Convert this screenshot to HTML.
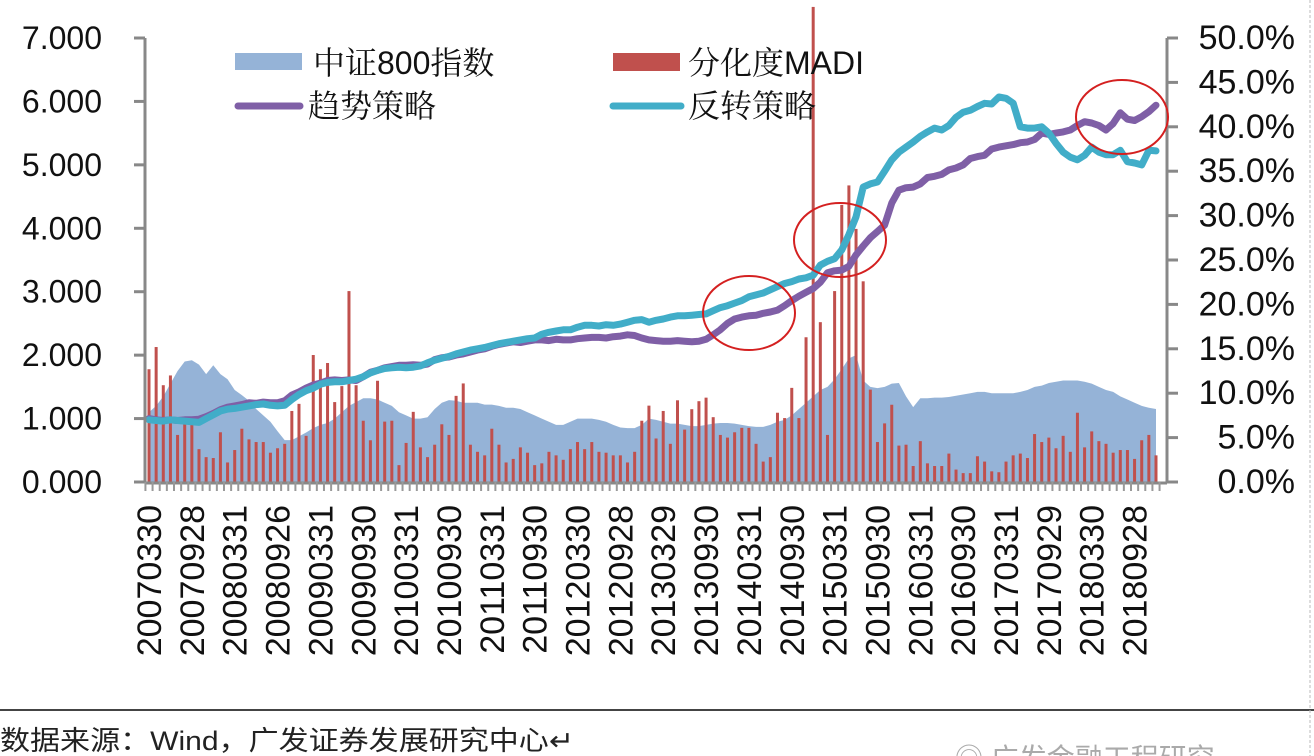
<!DOCTYPE html>
<html><head><meta charset="utf-8"><style>
html,body{margin:0;padding:0;background:#fff;width:1314px;height:756px;overflow:hidden}
svg{display:block}
</style></head><body>
<svg id="chart" width="1314" height="756" xmlns="http://www.w3.org/2000/svg" font-family="Liberation Sans, sans-serif">
<g id="area-layer"></g>
<g id="bar-layer"></g>
<g id="line-layer"></g>
<g id="axis-layer"></g>
<g fill="none" stroke="#d42020" stroke-width="2">
<ellipse cx="749" cy="313" rx="46" ry="37"/>
<ellipse cx="840" cy="240" rx="46" ry="37"/>
<ellipse cx="1122" cy="117" rx="46" ry="37"/>
</g>
<g font-family="Liberation Sans, Noto Serif CJK SC, serif" font-size="32" fill="#111">
<g><rect x="235" y="53" width="67" height="17" fill="#95b3d7"/><text x="313" y="74">中证800指数</text></g>
<g><rect x="613" y="53" width="67" height="18" fill="#c0504d"/><text x="688" y="74">分化度MADI</text></g>
<g><line x1="238" y1="106" x2="300" y2="106" stroke="#7f5fa6" stroke-width="7" stroke-linecap="round"/><text x="308" y="117">趋势策略</text></g>
<g><line x1="613" y1="106" x2="681" y2="106" stroke="#41adc8" stroke-width="7" stroke-linecap="round"/><text x="688" y="117">反转策略</text></g>
</g>
<line x1="0" y1="710" x2="1314" y2="710" stroke="#444" stroke-width="2"/>
<line x1="1310" y1="0" x2="1310" y2="756" stroke="#bbb" stroke-width="1" stroke-dasharray="3,2"/>
<text x="0" y="750" font-size="27" fill="#222" textLength="574" lengthAdjust="spacingAndGlyphs" font-family="Liberation Sans, Noto Sans CJK SC, sans-serif">数据来源：Wind，广发证券发展研究中心↵</text>
<text x="955" y="768" font-size="28" fill="#aaa" font-family="Liberation Sans, Noto Sans CJK SC, sans-serif">◎ 广发金融工程研究</text>
</svg>
<script>
const xLabels=["20070330","20070928","20080331","20080926","20090331","20090930","20100331","20100930","20110331","20110930","20120330","20120928","20130329","20130930","20140331","20140930","20150331","20150930","20160331","20160930","20170331","20170929","20180330","20180928"];
const leftTicks=["0.000","1.000","2.000","3.000","4.000","5.000","6.000","7.000"];
const rightTicks=["0.0%","5.0%","10.0%","15.0%","20.0%","25.0%","30.0%","35.0%","40.0%","45.0%","50.0%"];
const csi800=[1.1,1.2,1.35,1.55,1.75,1.9,1.92,1.85,1.7,1.84,1.7,1.62,1.45,1.37,1.28,1.15,1.05,0.95,0.8,0.66,0.66,0.72,0.78,0.85,0.9,0.93,1.0,1.1,1.2,1.26,1.32,1.32,1.3,1.25,1.2,1.1,1.05,1.0,1.0,1.02,1.15,1.25,1.29,1.28,1.25,1.25,1.25,1.22,1.22,1.2,1.17,1.17,1.15,1.1,1.05,1.0,0.95,0.9,0.9,0.95,1.0,1.0,1.0,0.98,0.95,0.9,0.86,0.85,0.85,0.9,1.0,0.98,0.95,0.92,0.92,0.9,0.88,0.88,0.9,0.92,0.93,0.93,0.92,0.9,0.88,0.87,0.87,0.9,0.95,0.98,1.05,1.15,1.25,1.35,1.45,1.5,1.62,1.78,1.95,2.0,1.6,1.5,1.48,1.5,1.55,1.56,1.35,1.18,1.32,1.32,1.33,1.33,1.34,1.36,1.38,1.4,1.42,1.42,1.4,1.4,1.4,1.4,1.42,1.45,1.5,1.52,1.56,1.58,1.6,1.6,1.6,1.58,1.55,1.5,1.45,1.42,1.35,1.3,1.25,1.2,1.17,1.15];
const madi=[12.7,15.2,10.9,12,5.3,7,6.6,3.7,2.8,2.7,5.6,2.2,3.6,6,4.8,4.5,4.5,3.3,3.8,4.3,8,8.8,5.2,14.3,12.7,13.4,9,10.8,21.5,10.9,6.9,4.7,11.4,6.8,6.9,1.9,4.4,7.9,3.9,2.8,4.2,6.5,5.3,9.7,11.1,4.2,3.4,3,6,4.2,2.2,2.6,3.9,3.3,1.9,2.1,3.4,3,2.5,3.7,4.5,3.7,4.5,3.4,3.3,3,3,2.2,3.4,6.9,8.6,4.9,8,4.3,9.2,5.9,8.2,9.1,9.5,7.3,5.3,5,5.6,6.1,6.1,4.3,2.3,2.8,7.8,7.2,10.6,7.2,16.3,53.5,18,5.3,21.5,31.2,33.4,28.5,22.6,10.4,4.5,6.6,8.7,4.1,4.2,1.8,4.6,2.1,1.8,1.8,3.2,1.4,1,1,2.9,2.3,1.2,1.1,2.3,3,3.2,2.7,5.4,4.5,5,3.8,5.2,3.4,7.8,3.9,5.7,4.6,4.3,3.3,3.6,3.6,2.6,4.7,5.3,3];
const trend=[1.0,0.98,0.97,0.98,0.97,0.98,0.98,0.99,1.03,1.08,1.14,1.18,1.2,1.22,1.25,1.24,1.26,1.25,1.25,1.28,1.37,1.42,1.48,1.53,1.56,1.6,1.61,1.6,1.61,1.6,1.66,1.73,1.76,1.8,1.82,1.84,1.84,1.85,1.84,1.86,1.93,1.96,1.97,2.0,2.02,2.05,2.08,2.1,2.14,2.17,2.19,2.21,2.2,2.22,2.24,2.24,2.23,2.25,2.24,2.24,2.26,2.27,2.28,2.28,2.27,2.29,2.3,2.32,2.31,2.27,2.24,2.23,2.22,2.22,2.23,2.22,2.21,2.22,2.25,2.32,2.4,2.5,2.57,2.6,2.62,2.63,2.66,2.68,2.71,2.78,2.86,2.93,2.99,3.05,3.15,3.3,3.33,3.34,3.4,3.58,3.72,3.85,3.95,4.05,4.4,4.6,4.64,4.65,4.7,4.8,4.82,4.85,4.92,4.95,5.0,5.1,5.13,5.15,5.25,5.28,5.3,5.32,5.35,5.36,5.4,5.5,5.48,5.5,5.52,5.55,5.62,5.68,5.66,5.62,5.55,5.65,5.82,5.72,5.7,5.76,5.84,5.94];
const reversal=[0.98,0.97,0.96,0.98,0.97,0.96,0.95,0.94,1.0,1.06,1.12,1.15,1.16,1.18,1.2,1.22,1.23,1.21,1.2,1.21,1.3,1.38,1.44,1.48,1.54,1.57,1.58,1.58,1.6,1.62,1.66,1.72,1.76,1.79,1.8,1.81,1.8,1.81,1.83,1.88,1.92,1.95,1.98,2.02,2.05,2.08,2.1,2.12,2.15,2.18,2.2,2.22,2.24,2.26,2.27,2.33,2.36,2.38,2.4,2.4,2.44,2.47,2.47,2.46,2.48,2.47,2.49,2.52,2.55,2.56,2.52,2.55,2.57,2.6,2.62,2.62,2.63,2.64,2.65,2.7,2.75,2.78,2.82,2.86,2.92,2.95,2.98,3.03,3.08,3.13,3.16,3.2,3.22,3.26,3.42,3.48,3.52,3.66,3.9,4.18,4.65,4.7,4.73,4.9,5.08,5.2,5.28,5.36,5.45,5.52,5.58,5.55,5.62,5.75,5.83,5.86,5.92,5.97,5.96,6.07,6.05,5.97,5.6,5.58,5.58,5.6,5.5,5.34,5.2,5.12,5.08,5.15,5.28,5.2,5.16,5.16,5.23,5.05,5.03,5.0,5.23,5.22];

const NS="http://www.w3.org/2000/svg";
const X0=145,X1=1167,Y0=482,YT=38;
const N=madi.length;
const step=(1156-149)/(N-1);
const xAt=i=>149+i*step;
const yL=v=>Y0-(v/7)*(Y0-YT);
const yR=v=>Y0-(v/50)*(Y0-YT);
function mk(tag,attrs,parent){const e=document.createElementNS(NS,tag);for(const k in attrs)e.setAttribute(k,attrs[k]);parent.appendChild(e);return e;}

const areaG=document.getElementById('area-layer');
let d=`M${xAt(0)},${Y0}`;
csi800.forEach((v,i)=>{d+=` L${xAt(i)},${yL(v)}`;});
d+=` L${xAt(csi800.length-1)},${Y0} Z`;
const area=mk('path',{d:d,fill:'#95b3d7'},areaG);



const barG=document.getElementById('bar-layer');
madi.forEach((v,i)=>{
  const y=yR(v);
  const b=mk('rect',{x:xAt(i)-1.5,y:y,width:3,height:Y0-y,fill:'#c0504d'},barG);
  
  
});

const lineG=document.getElementById('line-layer');
function line(arr,color,name){
  const p=arr.map((v,i)=>`${i?'L':'M'}${xAt(i).toFixed(1)},${yL(v).toFixed(1)}`).join(' ');
  const l=mk('path',{d:p,fill:'none',stroke:color,'stroke-width':7,'stroke-linejoin':'round','stroke-linecap':'round'},lineG);
  
  
}
line(trend,'#7f5fa6','trend-strategy-line');
line(reversal,'#41adc8','reversal-strategy-line');

const ax=document.getElementById('axis-layer');
const la=mk('line',{x1:X0,y1:YT,x2:X0,y2:Y0+1,stroke:'#888','stroke-width':3},ax);


const ra=mk('line',{x1:X1,y1:YT,x2:X1,y2:Y0+1,stroke:'#888','stroke-width':3},ax);


const xa=mk('line',{x1:X0,y1:Y0+1,x2:X1,y2:Y0+1,stroke:'#888','stroke-width':3},ax);


leftTicks.forEach((t,i)=>{
  const y=Y0-i*(Y0-YT)/7;
  mk('line',{x1:X0-11,y1:y,x2:X0,y2:y,stroke:'#888','stroke-width':3},ax);
  const tx=mk('text',{x:102,y:y+11,'font-size':32,'text-anchor':'end',fill:'#111'},ax);
  tx.textContent=t;
  
  
});
rightTicks.forEach((t,i)=>{
  const y=Y0-i*(Y0-YT)/10;
  mk('line',{x1:X1,y1:y,x2:X1+11,y2:y,stroke:'#888','stroke-width':3},ax);
  const tx=mk('text',{x:1295,y:y+11,'font-size':34,'text-anchor':'end',fill:'#111'},ax);
  tx.textContent=t;
  
  
});
for(let i=0;i<=N;i++){
  const x=xAt(i)-step/2;
  mk('line',{x1:x,y1:Y0,x2:x,y2:Y0+9,stroke:'#999','stroke-width':2},ax);
}
xLabels.forEach((t,k)=>{
  const x=xAt(k*6)+12;
  const tx=mk('text',{x:0,y:0,'font-size':34,'text-anchor':'end',fill:'#111',transform:`translate(${x},505) rotate(-90)`},ax);
  tx.textContent=t;
  
  
});
</script>
</body></html>
